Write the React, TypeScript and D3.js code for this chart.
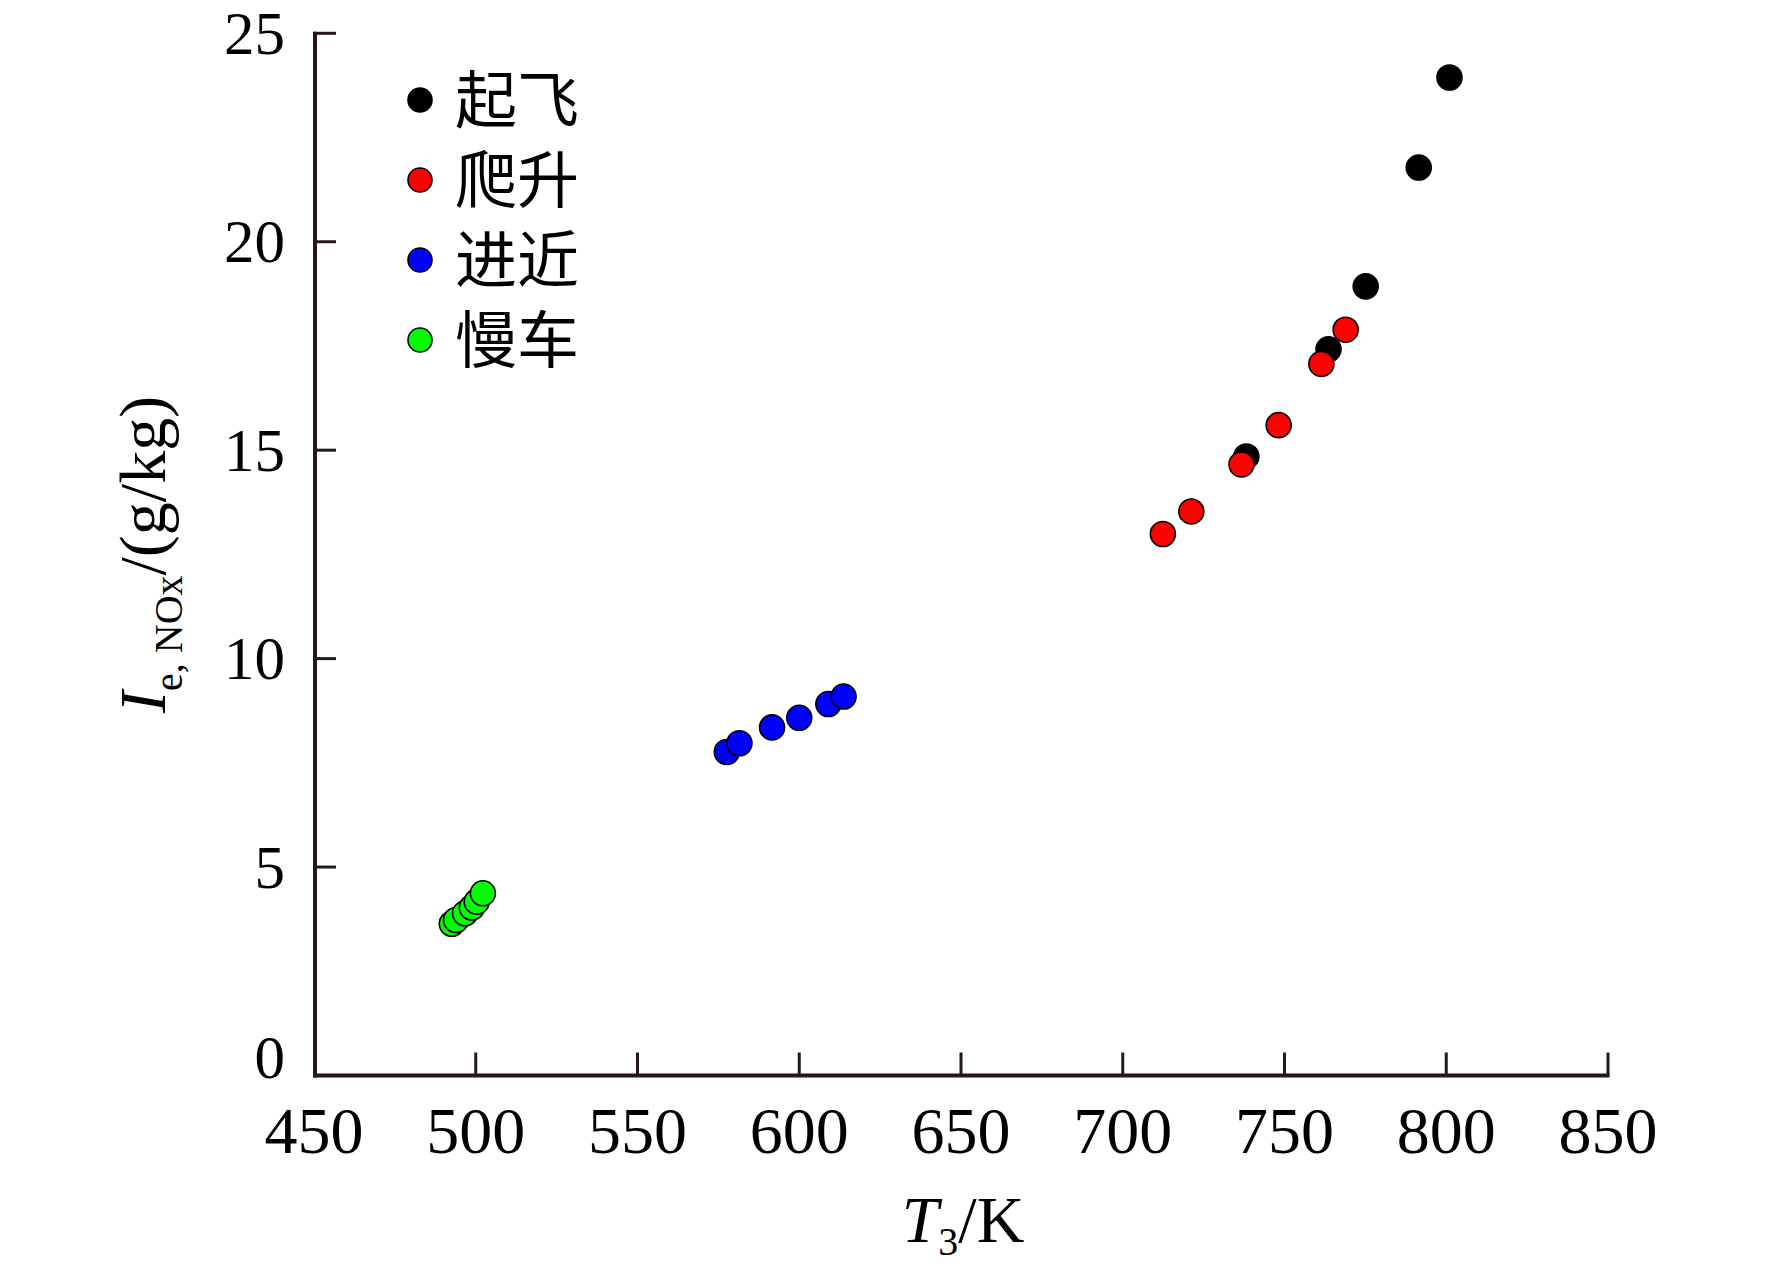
import React from 'react';
import * as d3 from 'd3';

// ---- data ----
const takeoffT3 = [738.2, 763.6, 775.1, 791.5, 801.0];
const takeoffEI = [14.85, 17.42, 18.93, 21.78, 23.94];
const climbT3 = [712.4, 721.2, 736.7, 748.2, 761.4, 768.9];
const climbEI = [12.99, 13.53, 14.66, 15.6, 17.07, 17.89];
const approachT3 = [577.6, 581.5, 591.6, 600.0, 609.0, 613.7];
const approachEI = [7.76, 7.97, 8.35, 8.58, 8.91, 9.09];
const idleT3 = [492.6, 493.9, 496.7, 498.8, 500.3, 502.2];
const idleEI = [3.64, 3.73, 3.89, 4.03, 4.17, 4.37];

const seriesNames = ['起飞', '爬升', '进近', '慢车'];
const seriesColors = ['#000000', '#ff0000', '#0000ff', '#00ff00'];
const xTicks = [450, 500, 550, 600, 650, 700, 750, 800, 850];
const yTicks = [0, 5, 10, 15, 20, 25];

const W = 1772;
const H = 1276;
const serif = '"Liberation Serif", "Times New Roman", serif';
const legendFont = '"Liberation Serif", "Noto Sans CJK SC", serif';
const axisColor = '#231815';

export default function App() {
  const x = d3.scaleLinear().domain([450, 850]).range([314, 1608]);
  const y = d3.scaleLinear().domain([0, 25]).range([1075.5, 33.3]);

  const series = [
    { xs: takeoffT3, ys: takeoffEI },
    { xs: climbT3, ys: climbEI },
    { xs: approachT3, ys: approachEI },
    { xs: idleT3, ys: idleEI },
  ];

  const x0 = x(450);
  const x1 = x(850);
  const yb = y(0);
  const yt = y(25);

  return (
    <svg
      width={W}
      height={H}
      viewBox={`0 0 ${W} ${H}`}
      style={{ position: 'absolute', left: 0, top: 0, background: '#fff' }}
    >
      <rect x={0} y={0} width={W} height={H} fill="#fff" />
      {/* axes */}
      <line x1={x0 + 1} x2={x0 + 1} y1={yt - 1.5} y2={yb + 2} stroke={axisColor} strokeWidth={4} />
      <line x1={x0 - 1} x2={x1 + 1.5} y1={yb} y2={yb} stroke={axisColor} strokeWidth={4} />
      {xTicks.slice(1).map((t) => (
        <line key={'xt' + t} x1={x(t)} x2={x(t)} y1={yb} y2={yb - 23} stroke={axisColor} strokeWidth={3} />
      ))}
      {yTicks.slice(1).map((t) => (
        <line key={'yt' + t} x1={x0} x2={x0 + 22} y1={y(t)} y2={y(t)} stroke={axisColor} strokeWidth={3} />
      ))}
      {xTicks.map((t) => (
        <text key={'xl' + t} x={x(t)} y={1153} textAnchor="middle" fontFamily={serif} fontSize={66} fill="#000">
          {t}
        </text>
      ))}
      {yTicks.map((t) => (
        <text
          key={'yl' + t}
          x={285}
          y={t === 0 ? y(t) - 18 : y(t)}
          textAnchor="end"
          dominantBaseline="central"
          fontFamily={serif}
          fontSize={61}
          fill="#000"
        >
          {t}
        </text>
      ))}
      {/* axis titles */}
      <text x={963} y={1242} textAnchor="middle" fontFamily={serif} fontSize={66} fill="#000">
        <tspan fontStyle="italic">T</tspan>
        <tspan fontSize={40} dy={13}>3</tspan>
        <tspan dy={-13}>/K</tspan>
      </text>
      <text
        transform={`translate(165, ${(yb + yt) / 2}) rotate(-90)`}
        textAnchor="middle"
        fontFamily={serif}
        fontSize={66}
        fill="#000"
      >
        <tspan fontStyle="italic">I</tspan>
        <tspan fontSize={40} dy={17}>e, NOx</tspan>
        <tspan dy={-17}>/(g/kg)</tspan>
      </text>
      {/* points */}
      {series.map((s, i) =>
        s.xs.map((v, j) => (
          <circle
            key={`p${i}-${j}`}
            cx={x(v)}
            cy={y(s.ys[j])}
            r={12.5}
            fill={seriesColors[i]}
            stroke="#000"
            strokeWidth={1.6}
          />
        ))
      )}
      {/* legend */}
      {seriesNames.map((n, i) => {
        const ly = 100 + i * 80;
        return (
          <g key={'lg' + i}>
            <circle cx={420} cy={ly} r={12} fill={seriesColors[i]} stroke="#000" strokeWidth={1.6} />
            <text x={455} y={ly + 23} fontFamily={legendFont} fontSize={62} fill="#000">
              {n}
            </text>
          </g>
        );
      })}
    </svg>
  );
}
